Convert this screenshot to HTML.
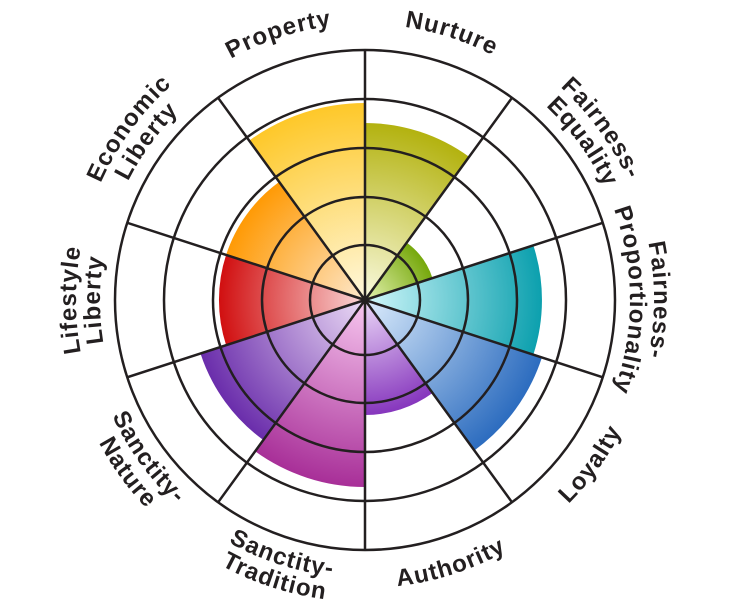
<!DOCTYPE html>
<html><head><meta charset="utf-8"><style>
html,body{margin:0;padding:0;background:#fff;}
svg{display:block}
text{font-family:"Liberation Sans",sans-serif;font-weight:bold;font-size:24px;fill:#231f20;letter-spacing:1px}
</style></head><body>
<svg width="732" height="600" viewBox="0 0 732 600" xmlns="http://www.w3.org/2000/svg">
<defs>
<radialGradient id="gN" gradientUnits="userSpaceOnUse" cx="365" cy="300" r="177"><stop offset="0" stop-color="#fafae0"/><stop offset="1" stop-color="#b3b20f"/></radialGradient>
<radialGradient id="gFE" gradientUnits="userSpaceOnUse" cx="365" cy="300" r="71"><stop offset="0" stop-color="#e5f3b0"/><stop offset="1" stop-color="#76a80c"/></radialGradient>
<radialGradient id="gFP" gradientUnits="userSpaceOnUse" cx="365" cy="300" r="177"><stop offset="0" stop-color="#d2f8fb"/><stop offset="1" stop-color="#0ca0ae"/></radialGradient>
<radialGradient id="gL" gradientUnits="userSpaceOnUse" cx="365" cy="300" r="186"><stop offset="0" stop-color="#dcecfc"/><stop offset="1" stop-color="#2c6cbf"/></radialGradient>
<radialGradient id="gA" gradientUnits="userSpaceOnUse" cx="365" cy="300" r="115"><stop offset="0" stop-color="#ecd9f8"/><stop offset="1" stop-color="#8636bd"/></radialGradient>
<radialGradient id="gST" gradientUnits="userSpaceOnUse" cx="365" cy="300" r="187"><stop offset="0" stop-color="#f8c8f0"/><stop offset="1" stop-color="#a82f98"/></radialGradient>
<radialGradient id="gSN" gradientUnits="userSpaceOnUse" cx="365" cy="300" r="173"><stop offset="0" stop-color="#ecdcf6"/><stop offset="1" stop-color="#6a2dab"/></radialGradient>
<radialGradient id="gLL" gradientUnits="userSpaceOnUse" cx="365" cy="300" r="146"><stop offset="0" stop-color="#fad8d8"/><stop offset="1" stop-color="#d10f10"/></radialGradient>
<radialGradient id="gEL" gradientUnits="userSpaceOnUse" cx="365" cy="300" r="146"><stop offset="0" stop-color="#fde8cc"/><stop offset="1" stop-color="#ff9a05"/></radialGradient>
<radialGradient id="gP" gradientUnits="userSpaceOnUse" cx="365" cy="300" r="197"><stop offset="0" stop-color="#fff8de"/><stop offset="1" stop-color="#fec829"/></radialGradient>
<path id="cw276" d="M365,24 A276,276 0 1 1 365,576 A276,276 0 1 1 365,24"/>
<path id="cw265" d="M365,35 A265,265 0 1 1 365,565 A265,265 0 1 1 365,35"/>
<path id="cw289" d="M365,11 A289,289 0 1 1 365,589 A289,289 0 1 1 365,11"/>
<path id="cc288" d="M365,12 A288,288 0 1 0 365,588 A288,288 0 1 0 365,12"/>
<path id="cc278" d="M365,22 A278,278 0 1 0 365,578 A278,278 0 1 0 365,22"/>
<path id="cc302" d="M365,-2 A302,302 0 1 0 365,602 A302,302 0 1 0 365,-2"/>
</defs>

<path d="M365,300 L365,123 A177,177 0 0 1 469.0,156.8 Z" fill="url(#gN)"/>
<path d="M365,300 L406.7,242.6 A71,71 0 0 1 432.5,278.1 Z" fill="url(#gFE)"/>
<path d="M365,300 L533.3,245.3 A177,177 0 0 1 533.3,354.7 Z" fill="url(#gFP)"/>
<path d="M365,300 L541.9,357.5 A186,186 0 0 1 474.3,450.5 Z" fill="url(#gL)"/>
<path d="M365,300 L432.6,393.0 A115,115 0 0 1 365,415 Z" fill="url(#gA)"/>
<path d="M365,300 L365,487 A187,187 0 0 1 255.1,451.3 Z" fill="url(#gST)"/>
<path d="M365,300 L263.3,440.0 A173,173 0 0 1 200.5,353.5 Z" fill="url(#gSN)"/>
<path d="M365,300 L226.1,345.1 A146,146 0 0 1 226.1,254.9 Z" fill="url(#gLL)"/>
<path d="M365,300 L226.1,254.9 A146,146 0 0 1 279.2,181.9 Z" fill="url(#gEL)"/>
<path d="M365,300 L249.2,140.6 A197,197 0 0 1 365,103 Z" fill="url(#gP)"/>

<g fill="none" stroke="#231f20" stroke-width="2.5">
<circle cx="365" cy="300" r="55"/>
<circle cx="365" cy="300" r="103"/>
<circle cx="365" cy="300" r="152"/>
<circle cx="365" cy="300" r="201"/>
<circle cx="365" cy="300" r="250"/>
<path d="M365,300 L365,50 M365,300 L512.0,97.8 M365,300 L602.8,222.8 M365,300 L602.8,377.3 M365,300 L512.0,502.3 M365,300 L365,550 M365,300 L218.1,502.3 M365,300 L127.2,377.3 M365,300 L127.2,222.8 M365,300 L218.1,97.8"/>
</g>
<circle cx="365" cy="300" r="3" fill="#231f20"/>

<text><textPath href="#cw276" startOffset="95%" text-anchor="middle">Property</textPath></text>
<text><textPath href="#cw276" startOffset="5%" text-anchor="middle">Nurture</textPath></text>
<text><textPath href="#cw289" startOffset="15%" text-anchor="middle">Fairness-</textPath></text>
<text><textPath href="#cw265" startOffset="15%" text-anchor="middle">Equality</textPath></text>
<text><textPath href="#cw289" startOffset="25%" text-anchor="middle">Fairness-</textPath></text>
<text><textPath href="#cw265" startOffset="25%" text-anchor="middle">Proportionality</textPath></text>
<text><textPath href="#cw289" startOffset="75%" text-anchor="middle">Lifestyle</textPath></text>
<text><textPath href="#cw265" startOffset="75%" text-anchor="middle">Liberty</textPath></text>
<text><textPath href="#cw289" startOffset="85%" text-anchor="middle">Economic</textPath></text>
<text><textPath href="#cw265" startOffset="85%" text-anchor="middle">Liberty</textPath></text>
<text><textPath href="#cc288" startOffset="65%" text-anchor="middle">Loyalty</textPath></text>
<text><textPath href="#cc288" startOffset="55%" text-anchor="middle">Authority</textPath></text>
<text><textPath href="#cc278" startOffset="45%" text-anchor="middle">Sanctity-</textPath></text>
<text><textPath href="#cc302" startOffset="45%" text-anchor="middle">Tradition</textPath></text>
<text><textPath href="#cc278" startOffset="35%" text-anchor="middle">Sanctity-</textPath></text>
<text><textPath href="#cc302" startOffset="35%" text-anchor="middle">Nature</textPath></text>
</svg>
</body></html>
